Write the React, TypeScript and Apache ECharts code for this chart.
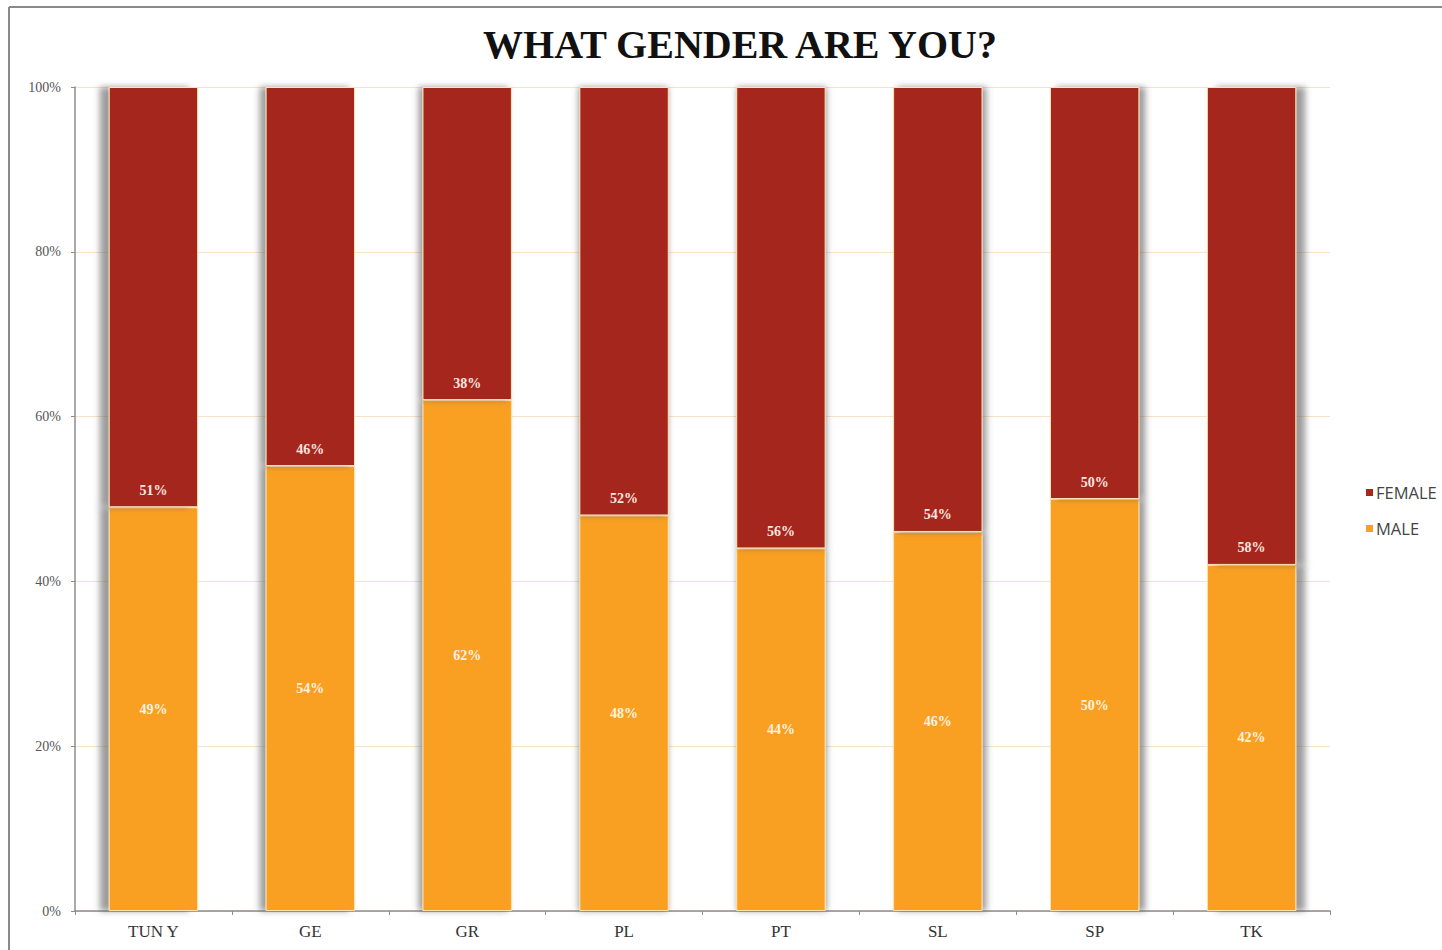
import React, { useEffect, useRef } from "react";
import * as echarts from "echarts";

const categories = ["TUN Y", "GE", "GR", "PL", "PT", "SL", "SP", "TK"];
const maleValues = [49, 54, 62, 48, 44, 46, 50, 42];
const femaleValues = [51, 46, 38, 52, 56, 54, 50, 58];
const yTicks = [0, 20, 40, 60, 80, 100];

const MALE_COLOR = "#F9A023";
const FEMALE_COLOR = "#A5281B";

export default function App() {
  const ref = useRef<HTMLDivElement>(null);
  useEffect(() => {
    if (!ref.current) return;
    const chart = echarts.init(ref.current, undefined, { renderer: "svg" });
    const n = categories.length;
    const shadowFor = (i: number) => Math.round(-9 + (18 * i) / (n - 1));
    const mkData = (vals: number[], color: string) =>
      vals.map((v, i) => ({
        value: v,
        itemStyle: {
          color,
          borderColor: "#FFE3B0",
          borderWidth: 1,
          shadowColor: "rgba(90,90,90,0.6)",
          shadowBlur: 6,
          shadowOffsetX: shadowFor(i),
        },
      }));
    chart.setOption({
      animation: false,
      backgroundColor: "#ffffff",
      title: {
        text: "WHAT GENDER ARE YOU?",
        left: 735,
        textAlign: "center",
        top: 19,
        textStyle: {
          fontFamily: "Liberation Serif",
          fontWeight: "bold",
          fontSize: 40,
          color: "#111111",
        },
      },
      graphic: [
        {
          type: "line",
          shape: { x1: 9, y1: 7, x2: 1442, y2: 7 },
          style: { stroke: "#8a8a8a", lineWidth: 2 },
        },
        {
          type: "line",
          shape: { x1: 9, y1: 7, x2: 9, y2: 950 },
          style: { stroke: "#8a8a8a", lineWidth: 2 },
        },
      ],
      legend: {
        orient: "vertical",
        left: 1361,
        top: 479,
        itemWidth: 7,
        itemHeight: 7,
        itemGap: 19,
        icon: "rect",
        data: ["FEMALE", "MALE"],
        textStyle: {
          fontFamily: "Open Sans",
          fontSize: 16.5,
          color: "#444444",
          padding: [0, 0, 0, -2],
        },
      },
      grid: { left: 75, right: 112, top: 87, bottom: 39 },
      xAxis: {
        type: "category",
        data: categories,
        axisLine: { lineStyle: { color: "#8c8c8c", width: 1.5 } },
        axisTick: { show: true, length: 4, lineStyle: { color: "#8c8c8c" } },
        axisLabel: {
          fontFamily: "Liberation Serif",
          fontSize: 17,
          color: "#333333",
          margin: 12,
        },
      },
      yAxis: {
        type: "value",
        min: 0,
        max: 100,
        interval: 20,
        axisLine: { show: true, lineStyle: { color: "#8c8c8c", width: 1.5 } },
        axisTick: { show: true, length: 4, lineStyle: { color: "#8c8c8c" } },
        splitLine: { lineStyle: { color: "#F8E2C8", width: 1 } },
        axisLabel: {
          fontFamily: "Liberation Serif",
          fontSize: 14,
          color: "#555555",
          margin: 14,
          formatter: (v: number) => (yTicks.includes(v) ? v + "%" : ""),
        },
      },
      series: [
        {
          name: "MALE",
          type: "bar",
          stack: "total",
          barWidth: "57%",
          color: MALE_COLOR,
          data: mkData(maleValues, MALE_COLOR),
          label: {
            show: true,
            position: "inside",
            formatter: "{c}%",
            fontFamily: "Liberation Serif",
            fontWeight: "bold",
            fontSize: 14,
            color: "#FFF3E0",
          },
        },
        {
          name: "FEMALE",
          type: "bar",
          stack: "total",
          barWidth: "57%",
          color: FEMALE_COLOR,
          data: mkData(femaleValues, FEMALE_COLOR),
          label: {
            show: true,
            position: "insideBottom",
            distance: 10,
            formatter: "{c}%",
            fontFamily: "Liberation Serif",
            fontWeight: "bold",
            fontSize: 14,
            color: "#FCE6E0",
          },
        },
      ],
    });
    return () => chart.dispose();
  }, []);
  return (
    <div
      ref={ref}
      style={{ position: "fixed", left: 0, top: 0, width: 1442, height: 950 }}
    />
  );
}
